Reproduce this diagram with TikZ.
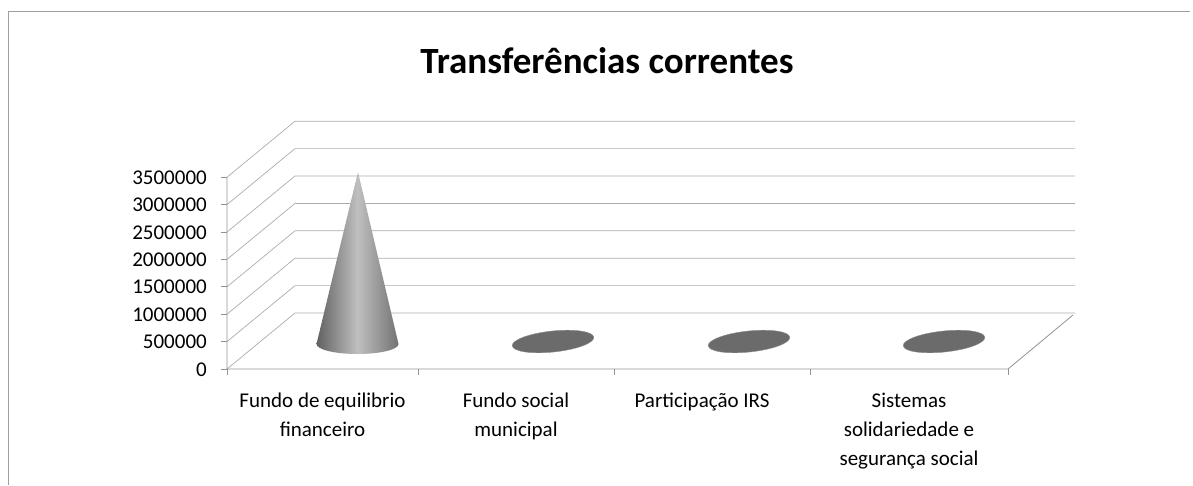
\documentclass[tikz,border=0pt]{standalone}
\usepackage{fontspec}
\setmainfont{Carlito}
\begin{document}
\begin{tikzpicture}[x=1pt,y=-1pt,
  grid/.style={draw=gray!65, line width=0.7pt},
  axis/.style={draw=gray!85, line width=0.8pt},
  ylab/.style={anchor=base east, font=\fontsize{21}{21}\selectfont, inner sep=0pt},
  xlab/.style={anchor=north, align=center, font=\fontsize{21}{29}\selectfont, inner sep=0pt},
  disc/.style={fill=black!58, draw=black!45, line width=0.4pt}]
\useasboundingbox (0,0) rectangle (1193,485);
% frame (only top and left edges are visible)
\coordinate (ftr) at (1190,11);
\coordinate (ftl) at (8,11);
\coordinate (fbl) at (8,485);
\draw[gray!75, line width=0.9pt] (ftr) -- (ftl) -- (fbl);
% title
\node[anchor=base, inner sep=0pt, font=\fontsize{37}{37}\selectfont\bfseries] (title) at (607,73) {Transferências correntes};
% walls and gridlines
\foreach \i in {0,...,7}{
  \draw[grid] (227,{369-27.4*\i}) -- (295,{313-27.4*\i}) -- (1075,{313-27.4*\i});
  \draw[axis] (221,{369-27.4*\i}) -- (227,{369-27.4*\i});
}
% axes
\draw[axis] (227,{369-27.4*7}) -- (227,369) -- (1008,369) -- (1073,315);
\foreach \x in {227,418,614,810,1008}{
  \draw[axis] (\x,369) -- (\x,375);
}
% y labels
\foreach \v [count=\i from 0] in {0,500000,1000000,1500000,2000000,2500000,3000000,3500000}{
  \node[ylab] (y\i) at (207,{369-27.4*\i+7}) {\v};
}
% cone
\shade[left color=black!62, right color=black!55, middle color=black!25]
  (358,172) -- (316.5,344)
  arc[start angle=180, end angle=0, x radius=41, y radius=10] -- cycle;
% flat discs
\foreach \cx in {553,749,944}{
  \fill[disc, rotate around={6:(\cx,341.5)}] (\cx,341.5) ellipse[x radius=41, y radius=10.5];
}
% category labels
\node[xlab] (c1) at (322.5,393) {Fundo de equilibrio\\financeiro};
\node[xlab] (c2) at (516,393) {Fundo social\\municipal};
\node[xlab] (c3) at (702,393) {Participação IRS};
\node[xlab] (c4) at (909,393) {Sistemas\\solidariedade e\\segurança social};
\end{tikzpicture}
\end{document}
